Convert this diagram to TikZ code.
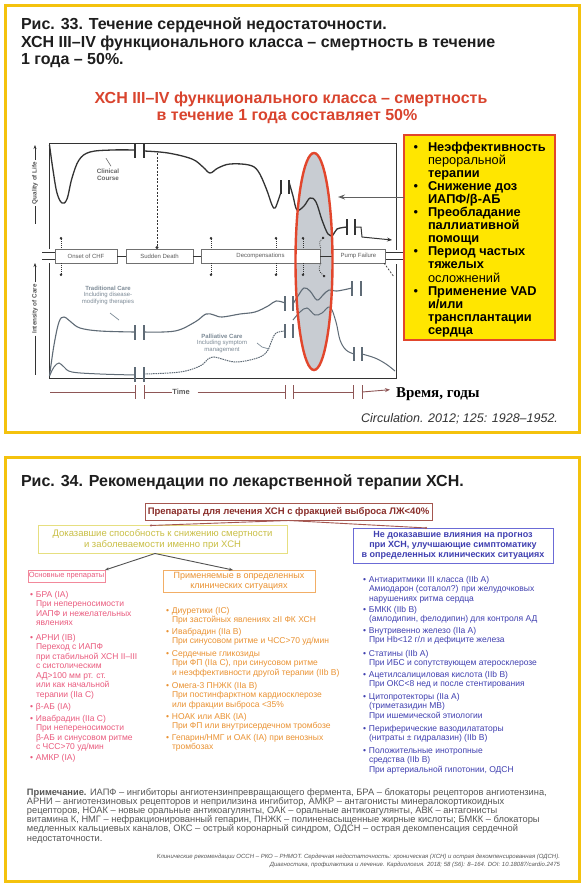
\documentclass[tikz,border=0pt]{standalone}
\usepackage{fontspec}
\setmainfont{Liberation Sans}
\newfontfamily\serifbf{Liberation Serif}
\usetikzlibrary{arrows.meta,calc}
\definecolor{frameY}{HTML}{F4C20D}
\definecolor{titleK}{HTML}{1E1E1E}
\definecolor{redT}{HTML}{D9442E}
\definecolor{ellR}{HTML}{E2462C}
\definecolor{ellF}{HTML}{C8CCD2}
\definecolor{boxY}{HTML}{FFE600}
\definecolor{curveK}{HTML}{333333}
\definecolor{curveG}{HTML}{5F6B76}
\definecolor{labG}{HTML}{7C8A96}
\definecolor{timeR}{HTML}{8E5656}
\definecolor{brownB}{HTML}{A4564F}
\definecolor{brownT}{HTML}{8A2E2A}
\definecolor{yelB}{HTML}{E6DF80}
\definecolor{yelT}{HTML}{C9BF45}
\definecolor{bluB}{HTML}{6B6BD6}
\definecolor{bluT}{HTML}{3F3FB0}
\definecolor{pinkB}{HTML}{F2899B}
\definecolor{pinkT}{HTML}{EA5B7E}
\definecolor{oraB}{HTML}{F2AE66}
\definecolor{oraT}{HTML}{EA9232}
\definecolor{noteT}{HTML}{555555}
\newcommand\vl[1]{\vtop{\let\\\cr\halign{##\hfil\cr#1\crcr}}}
\newcommand\bu{\llap{\textbullet\hspace{3pt}}}
\newcommand\bub{\llap{\mdseries\textbullet\hspace{10pt}}}
\newcommand\twobars[5]{\draw[#1] (#2,#4)--(#2,#5) (#3,#4)--(#3,#5);}
\begin{document}
\begin{tikzpicture}[x=1pt,y=-1pt,
  every node/.style={inner sep=0pt, outer sep=0pt},
  frame/.style={draw=frameY,line width=3pt},
  ttl/.style={font=\fontsize{16}{18}\selectfont\bfseries, text=titleK, anchor=base west},
  ctl/.style={font=\fontsize{16}{18}\selectfont\bfseries, text=redT, anchor=base},
  ax/.style={draw=curveK, line width=0.9pt},
  ck/.style={draw=curveK, line width=1.3pt},
  cg/.style={draw=curveG, line width=1.1pt},
  cp/.style={draw=curveG, line width=1pt, dash pattern=on 1.5pt off 0.8pt},
  barK/.style={draw=curveK, line width=1.1pt},
  barG/.style={draw=curveG, line width=1.1pt},
  bandbox/.style={draw=curveK!70, line width=0.6pt, fill=white, minimum height=14pt, font=\fontsize{6}{7}\selectfont, text=curveK!80},
  lab/.style={font=\fontsize{6}{6.8}\selectfont, text=labG, align=center},
  dotarr/.style={draw=curveK, line width=0.8pt, dash pattern=on 0.8pt off 1.2pt, {Circle[length=2.4pt]}-},
  tax/.style={draw=timeR, line width=0.9pt},
  item/.style={anchor=base west, font=\fontsize{8.5}{9.5}\selectfont},
  note/.style={anchor=base west, font=\fontsize{9.3}{10}\selectfont, text=noteT},
  cite/.style={anchor=base east, font=\fontsize{6}{7}\selectfont\itshape, text=noteT}
]
\useasboundingbox (0,0) rectangle (586,886);
\fill[white] (0,0) rectangle (586,886);
% ---------- frames
\draw[frame] (5,5) rectangle (579,432);
\draw[frame] (5,457) rectangle (579,881);
% ---------- Fig 33 title
\node[ttl] (t1) at (21,29) {Рис. 33. Течение сердечной недостаточности.};
\node[ttl] (t2) at (21,47) {ХСН III–IV функционального класса – смертность в течение};
\node[ttl] (t3) at (21,64) {1 года – 50\%.};
\node[ctl] (c1) at (291,103) {ХСН III–IV функционального класса – смертность};
\node[ctl] (c2) at (287,120) {в течение 1 года составляет 50\%};
% ---------- ellipse fill
\fill[ellF] (314,261.5) ellipse [x radius=18.5pt, y radius=108.5pt];
% ---------- chart frame
\draw[ax] (49,249) -- (49,143) -- (396,143) -- (396,250);
\draw[ax] (49,263) -- (49,378) -- (396,378) -- (396,264);
% ---------- clinical course
\draw[ck] plot[smooth,tension=0.6] coordinates {(49.5,145) (53,170) (57,193) (62,203) (67,199) (72,178) (79,160) (90,152) (112,150) (135,150)};
\twobars{barK}{135}{144}{143}{158}
\draw[ck] plot[smooth,tension=0.6] coordinates {(144,151) (168,153) (192,159) (203,167) (210,173) (218,168) (230,164) (249,165) (258,171) (266,188) (272,205) (275,208) (278,201) (281,192)};
\twobars{barK}{281}{289}{180}{194}
\draw[ck] plot[smooth,tension=0.6] coordinates {(289,182) (293,196) (297,210) (304,206) (310,198) (316,202) (322,220) (328,234) (333,235) (337,229) (347,227)};
\twobars{barK}{347}{355}{219}{235}
\coordinate (pfTip) at (392,240);
\draw[ck,line width=1pt,-{Stealth[length=5pt,width=4pt]}] (355,227) -- (361,227) -- (362,237) -- (pfTip);
% ---------- traditional care
\draw[cg] plot[smooth,tension=0.6] coordinates {(49.5,376) (54,345) (59,322) (64,317) (71,322) (80,328) (100,331) (135,332)};
\twobars{barG}{135}{144}{325}{340}
\draw[cg] plot[smooth,tension=0.6] coordinates {(144,332) (175,331) (195,322) (206,314) (214,315) (222,317) (240,314) (255,312) (268,306) (276,301) (285,303)};
\twobars{barG}{285}{293}{296}{311}
\draw[cg] plot[smooth,tension=0.6] coordinates {(293,304) (298,296) (304,288) (310,291) (317,300) (323,295) (329,290) (337,291) (352,288)};
\twobars{barG}{352}{361}{281}{296}
% ---------- palliative care
\draw[cg,line width=1pt] plot[smooth,tension=0.6] coordinates {(49.5,376) (54,367) (59,363) (64,367) (72,372) (100,374) (135,375)};
\twobars{barG}{135}{144}{367}{382}
\draw[cp] plot[smooth,tension=0.6] coordinates {(144,374) (180,372) (200,366) (208,359) (214,357) (222,359) (235,362) (250,360) (262,356) (268,350) (272,340) (276,333) (285,331)};
\twobars{barG}{285}{293}{324}{338}
\draw[cg,line width=1pt] plot[smooth,tension=0.6] coordinates {(293,320) (300,312) (307,308) (315,315) (322,313) (330,307) (336,322) (340,340) (346,350) (354,354)};
\twobars{barG}{354}{362}{347}{361}
\draw[cg,line width=1pt] plot[smooth,tension=0.6] coordinates {(362,354) (375,358) (386,364) (395,371)};
% ---------- band
\draw[ax,line width=0.6pt] (42,252.5)--(55,252.5) (42,259.5)--(55,259.5);
\draw[ax,line width=0.6pt] (385,252.5)--(403,252.5) (385,259.5)--(403,259.5);
\node[bandbox, minimum width=62pt] (b1) at (86,256) {Onset of CHF};
\node[bandbox, minimum width=67pt] (b2) at (159.5,256) {Sudden Death};
\node[bandbox, minimum width=119pt] (b3) at (260.5,256) {Decompensations};
\node[bandbox, minimum width=53pt] (b4) at (358.5,256) {Pump Failure};
\draw[ax,line width=0.6pt] (b1.east) -- (b2.west);
\draw[ax,line width=0.6pt] (b2.east) -- (b3.west);
\draw[ax,line width=0.6pt] (b3.east) -- (b4.west);
\foreach \xx in {61,211,276,303} {
  \draw[dotarr] (\xx,237) -- (\xx,249);
  \draw[dotarr] (\xx,276) -- (\xx,263);
}
\draw[dotarr] (324,237) .. controls (319,242) .. (321,249);
\draw[dotarr] (325,277) .. controls (318,270) .. (321,263);
\coordinate (sdTop) at (157,153);
\draw[draw=curveK, line width=1pt, dash pattern=on 2pt off 1.5pt, -{Circle[length=3pt]}] (sdTop) -- (sdTop |- b2.north);
\draw[draw=curveK, line width=0.7pt, dash pattern=on 2pt off 1.5pt] (384,263) -- (394,277);
% ---------- ellipse outline
\draw[ellR, line width=2.4pt] (314,261.5) ellipse [x radius=18.5pt, y radius=108.5pt];
% ---------- labels
\node[font=\fontsize{6.3}{7}\selectfont\bfseries, text=curveK!75, align=center] (cc) at (108,175) {Clinical\\Course};
\draw[curveK!70, line width=0.6pt] (cc.north) ++(3,-3) -- ++(-5,-8);
\node[lab] (tc) at (108,295) {\textbf{Traditional Care}\\[-0.5pt]Including disease-\\modifying therapies};
\draw[labG, line width=0.7pt] (110,313) -- (119,320);
\node[lab] (pc) at (222,343) {\textbf{Palliative Care}\\[-0.5pt]Including symptom\\management};
\draw[labG, line width=0.7pt] (257,343) -- (262,347) -- (269,349);
% ---------- y axis labels
\node[rotate=90, font=\fontsize{6.3}{7}\selectfont\bfseries, text=curveK!85] (ql) at (35,183) {Quality of Life};
\draw[curveK, line width=0.8pt, -{Stealth[length=4pt,width=3pt]}] (ql.east) ++(0,-2) -- (35,145);
\draw[curveK, line width=0.8pt] (ql.west) ++(0,2) -- (35,224);
\node[rotate=90, font=\fontsize{6.3}{7}\selectfont\bfseries, text=curveK!85] (ic) at (35,309) {Intensity of Care};
\draw[curveK, line width=0.8pt, -{Stealth[length=4pt,width=3pt]}] (ic.east) ++(0,-2) -- (35,263);
\draw[curveK, line width=0.8pt] (ic.west) ++(0,2) -- (35,375);
% ---------- time axis
\node[font=\fontsize{7.5}{8}\selectfont\bfseries, text=curveK!80] (time) at (181,392) {Time};
\draw[tax] (50,392)--(135,392) (144,392)--(time.west) ++(-6,0);
\draw[tax] (144,392) -- ($(time.west)+(-6,0)$);
\draw[tax] ($(time.east)+(8,0)$) -- (285,392) (293,392)--(353,392);
\node[anchor=base west, font=\fontsize{15}{16}\selectfont\serifbf\bfseries] (vremya) at (396,397) {Время, годы};
\draw[tax,-{Stealth[length=5pt,width=4pt]}] (362,392) -- ($(vremya.west)+(-6,-4)$);
\twobars{tax}{135}{144}{385}{399}
\twobars{tax}{285}{293}{385}{399}
\twobars{tax}{353}{362}{385}{399}
\node[anchor=base east, font=\fontsize{12.5}{14}\selectfont\itshape, text=curveK] (circ) at (558,422) {Circulation. 2012; 125: 1928–1952.};
% ---------- yellow box
\node[draw=ellR, line width=2.4pt, fill=boxY, minimum width=151pt, minimum height=205pt] (yb) at (479.5,237.5) {};
\node[anchor=base west, font=\fontsize{12.8}{13.1}\selectfont\bfseries, text=black] (ytxt) at (428,151) {\vl{\bub Неэффективность\\{\mdseries пероральной}\\терапии\\\bub Снижение доз\\ИАПФ/β-АБ\\\bub Преобладание\\паллиативной\\помощи\\\bub Период частых\\тяжелых\\{\mdseries осложнений}\\\bub Применение VAD\\и/или\\трансплантации\\сердца}};
\coordinate (arrEnd) at (338,197);
\draw[draw=gray!75!black, line width=1pt, -{Stealth[length=7pt,width=5pt]}] (yb.west |- arrEnd) -- (arrEnd);
% ---------- Fig 34 title
\node[ttl] (t4) at (21,486) {Рис. 34. Рекомендации по лекарственной терапии ХСН.};
\node[draw=brownB, line width=0.8pt, fill=white, minimum width=287pt, minimum height=17pt, font=\fontsize{9.5}{11}\selectfont\bfseries, text=brownT] (top) at (288.5,512) {Препараты для лечения ХСН с фракцией выброса ЛЖ<40\%};
\node[draw=yelB, line width=0.8pt, minimum width=249pt, minimum height=28pt, align=center, font=\fontsize{9.5}{11}\selectfont, text=yelT] (yel) at (162.5,539.5) {Доказавшие способность к снижению смертности\\и заболеваемости именно при ХСН};
\node[draw=bluB, line width=0.9pt, minimum width=200pt, minimum height=35pt, align=center, font=\fontsize{9}{10.3}\selectfont\bfseries, text=bluT] (blu) at (453,545.5) {Не доказавшие влияния на прогноз\\при ХСН, улучшающие симптоматику\\в определенных клинических ситуациях};
\node[draw=pinkB, line width=0.8pt, minimum width=77pt, minimum height=12pt, font=\fontsize{7.5}{8}\selectfont, text=pinkT] (pinkh) at (66.5,576) {Основные препараты};
\node[draw=oraB, line width=0.8pt, minimum width=152pt, minimum height=22pt, align=center, font=\fontsize{9}{10}\selectfont, text=oraT] (orah) at (239,581) {Применяемые в определенных\\клинических ситуациях};
\draw[brownB, line width=0.9pt, -{Circle[length=2pt]}] (top.south) -- ($(yel.north west)!0.45!(yel.north east)$);
\draw[brownB, line width=0.9pt, -{Circle[length=2pt]}] (top.south) -- ($(blu.north west)!0.37!(blu.north east)$);
\coordinate (ys) at ($(yel.south west)!0.47!(yel.south east)$);
\draw[curveK!85, line width=0.9pt, -{Stealth[length=4pt,width=3pt]}] (ys) -- (pinkh.north east);
\draw[curveK!85, line width=0.9pt, -{Stealth[length=4pt,width=3pt]}] (ys) -- ($(orah.north west)!0.46!(orah.north east)$);
% pink column
\node[item, text=pinkT] (p1) at (36,597) {\vl{\bu БРА (IA)\\При непереносимости\\ИАПФ и нежелательных\\явлениях}};
\node[item, text=pinkT] (p2) at (36,640) {\vl{\bu АРНИ (IB)\\Переход с ИАПФ\\при стабильной ХСН II–III\\с систолическим\\АД>100 мм рт. ст.\\или как начальной\\терапии (IIa C)}};
\node[item, text=pinkT] (p3) at (36,709) {\vl{\bu β-АБ (IA)}};
\node[item, text=pinkT] (p4) at (36,721) {\vl{\bu Ивабрадин (IIa C)\\При непереносимости\\β-АБ и синусовом ритме\\с ЧСС>70 уд/мин}};
\node[item, text=pinkT] (p5) at (36,760) {\vl{\bu АМКР (IA)}};
% orange column
\node[item, text=oraT] (o1) at (172,613) {\vl{\bu Диуретики (IC)\\При застойных явлениях ≥II ФК ХСН}};
\node[item, text=oraT] (o2) at (172,634) {\vl{\bu Ивабрадин (IIa B)\\При синусовом ритме и ЧСС>70 уд/мин}};
\node[item, text=oraT] (o3) at (172,656) {\vl{\bu Сердечные гликозиды\\При ФП (IIa C), при синусовом ритме\\и неэффективности другой терапии (IIb B)}};
\node[item, text=oraT] (o4) at (172,688) {\vl{\bu Омега-3 ПНЖК (IIa B)\\При постинфарктном кардиосклерозе\\или фракции выброса <35\%}};
\node[item, text=oraT] (o5) at (172,719) {\vl{\bu НОАК или АВК (IA)\\При ФП или внутрисердечном тромбозе}};
\node[item, text=oraT] (o6) at (172,740) {\vl{\bu Гепарин/НМГ и ОАК (IA) при венозных\\тромбозах}};
% blue column
\node[item, text=bluT] (q1) at (369,582) {\vl{\bu Антиаритмики III класса (IIb A)\\Амиодарон (соталол?) при желудочковых\\нарушениях ритма сердца}};
\node[item, text=bluT] (q2) at (369,612) {\vl{\bu БМКК (IIb B)\\(амлодипин, фелодипин) для контроля АД}};
\node[item, text=bluT] (q3) at (369,633) {\vl{\bu Внутривенно железо (IIa A)\\При Hb<12 г/л и дефиците железа}};
\node[item, text=bluT] (q4) at (369,656) {\vl{\bu Статины (IIb A)\\При ИБС и сопутствующем атеросклерозе}};
\node[item, text=bluT] (q5) at (369,677) {\vl{\bu Ацетилсалициловая кислота (IIb B)\\При ОКС<8 нед и после стентирования}};
\node[item, text=bluT] (q6) at (369,699) {\vl{\bu Цитопротекторы (IIa A)\\(триметазидин МВ)\\При ишемической этиологии}};
\node[item, text=bluT] (q7) at (369,731) {\vl{\bu Периферические вазодилататоры\\(нитраты ± гидралазин) (IIb B)}};
\node[item, text=bluT] (q8) at (369,753) {\vl{\bu Положительные инотропные\\средства (IIb B)\\При артериальной гипотонии, ОДСН}};
% note
\node[note] (n1) at (27,795) {\textbf{Примечание.} ИАПФ – ингибиторы ангиотензинпревращающего фермента, БРА – блокаторы рецепторов ангиотензина,};
\node[note] (n2) at (27,804.2) {АРНИ – ангиотензиновых рецепторов и неприлизина ингибитор, АМКР – антагонисты минералокортикоидных};
\node[note] (n3) at (27,813.4) {рецепторов, НОАК – новые оральные антикоагулянты, ОАК – оральные антикоагулянты, АВК – антагонисты};
\node[note] (n4) at (27,822.6) {витамина К, НМГ – нефракционированный гепарин, ПНЖК – полиненасыщенные жирные кислоты; БМКК – блокаторы};
\node[note] (n5) at (27,831.8) {медленных кальциевых каналов, ОКС – острый коронарный синдром, ОДСН – острая декомпенсация сердечной};
\node[note] (n6) at (27,841) {недостаточности.};
\node[cite] (r1) at (560,858) {Клинические рекомендации ОССН – РКО – РНМОТ. Сердечная недостаточность: хроническая (ХСН) и острая декомпенсированная (ОДСН).};
\node[cite] (r2) at (560,866) {Диагностика, профилактика и лечение. Кардиология. 2018; 58 (S6): 8–164. DOI: 10.18087/cardio.2475};
\end{tikzpicture}
\end{document}
